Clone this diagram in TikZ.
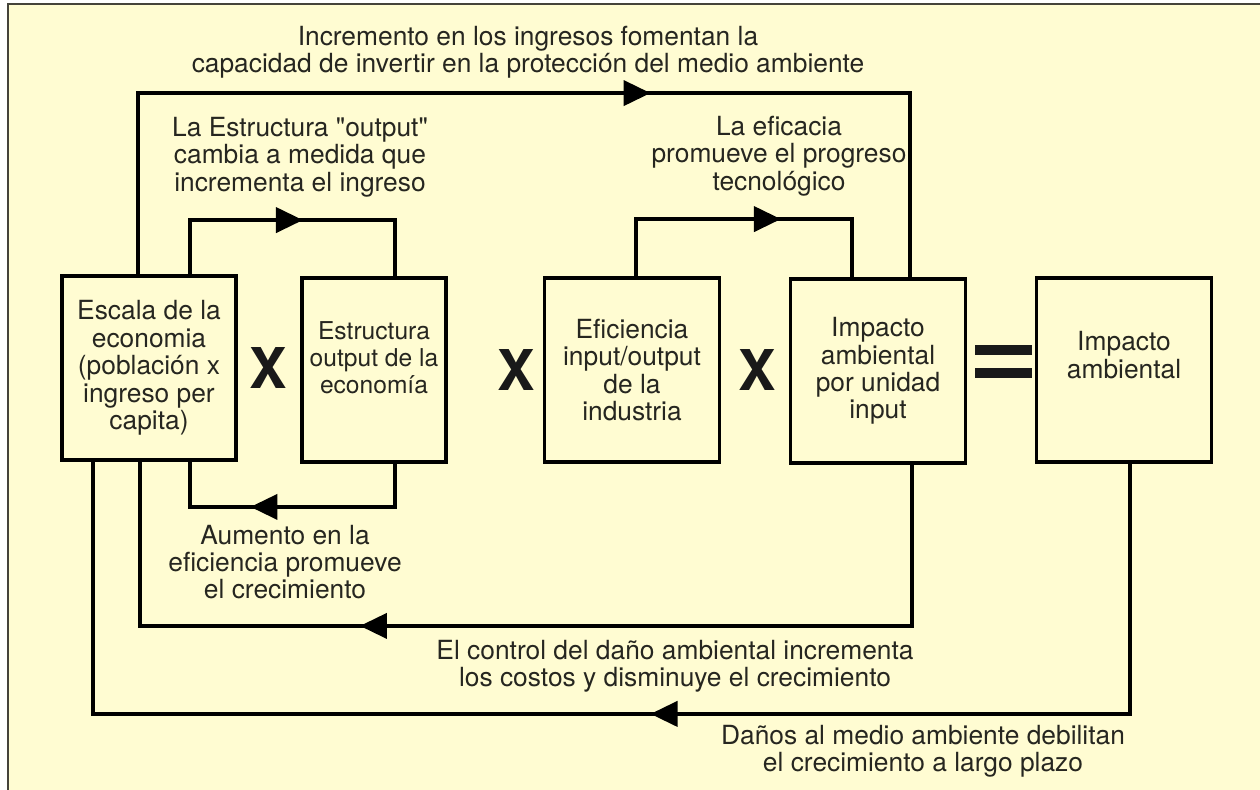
\documentclass[tikz,border=0pt]{standalone}
\usepackage{fontspec}
\setmainfont{TeX Gyre Heros}[Ligatures=TeXOff]
\usetikzlibrary{arrows.meta,decorations.markings}

\definecolor{fondo}{HTML}{FFFCD2}
\definecolor{tinta}{HTML}{262620}
\definecolor{marco}{HTML}{45433A}

\tikzset{
  caja/.style={draw=black, line width=2.2pt, minimum width=3.5cm, minimum height=3.68cm, align=center, inner sep=2pt, text=tinta},
  texto/.style={align=center, text=tinta, inner sep=0pt},
  lazo/.style={line width=2.3pt, postaction={decorate}, decoration={markings, mark=at position #1 with {\arrow{Triangle[length=0.54cm,width=0.5cm]}}}},
  por/.style={font=\fontsize{32}{32}\selectfont\bfseries, text=black!90}
}

\begin{document}
\begin{tikzpicture}[x=0.02cm, y=-0.02cm, font=\fontsize{15}{15.6}\selectfont]
      \useasboundingbox (0,0) rectangle (1260,790);
      \fill[white] (0,0) rectangle (1260,790);
      \fill[fondo] (8,4) rectangle (1260,790);
      \draw[marco, line width=1.6pt] (8,790) -- (8,4) -- (1260,4);

      % cajas
      \node[caja, minimum width=3.48cm] (escala) at (149,368) {Escala de la\\economia\\(población x\\ingreso per\\capita)};
      \node[caja, minimum width=2.88cm, text depth=0.5cm, font=\fontsize{14}{15.6}\selectfont] (estructura) at (374,370) {Estructura\\output de la\\economía};
      \node[caja] (eficiencia) at (632,370) {Eficiencia\\input/output\\de la\\industria};
      \node[caja] (impunidad) at (878,371) {Impacto\\ambiental\\por unidad\\input};
      \node[caja, text depth=0.6cm] (impacto) at (1124,370) {Impacto\\ambiental};

      \node[por] (por1) at (268,368) {X};
      \node[por] (por2) at (516,370) {X};
      \node[por] (por3) at (757,370) {X};
      \fill[black!90] (975,345) rectangle (1032,355);
      \fill[black!90] (975,368) rectangle (1032,378);

      % lazos de arriba
      \draw[lazo=0.61] ([xshift=-0.22cm]escala.north) -- ++(0,-181) -| ([xshift=0.64cm]impunidad.north);
      \draw[lazo=0.53] ([xshift=0.82cm]escala.north) -- ++(0,-54) -| ([xshift=0.42cm]estructura.north);
      \draw[lazo=0.61] ([xshift=0.08cm]eficiencia.north) -- ++(0,-57) -| ([xshift=-0.52cm]impunidad.north);

      % lazos de abajo
      \draw[lazo=0.64] ([xshift=0.42cm]estructura.south) -- ++(0,43) -| ([xshift=0.82cm]escala.south);
      \draw[lazo=0.65] ([xshift=0.68cm]impunidad.south) -- ++(0,161) -| ([xshift=-0.18cm]escala.south);
      \draw[lazo=0.474] ([xshift=0.12cm]impacto.south) -- ++(0,250) -| ([xshift=-1.12cm]escala.south);

      % rotulos
      \node[texto] (incremento) at (528,52) {Incremento en los ingresos fomentan la\\capacidad de invertir en la protección del medio ambiente};
      \node[texto] (cambio) at (300,157) {La Estructura "output"\\cambia a medida que\\incrementa el ingreso};
      \node[texto] (eficacia) at (779,156) {La eficacia\\promueve el progreso\\tecnológico};
      \node[texto] (aumento) at (285,562) {Aumento en la\\eficiencia promueve\\el crecimiento};
      \node[texto] (control) at (675,666) {El control del daño ambiental incrementa\\los costos y disminuye el crecimiento};
      \node[texto] (danos) at (923,751) {Daños al medio ambiente debilitan\\el crecimiento a largo plazo};
\end{tikzpicture}
\end{document}
